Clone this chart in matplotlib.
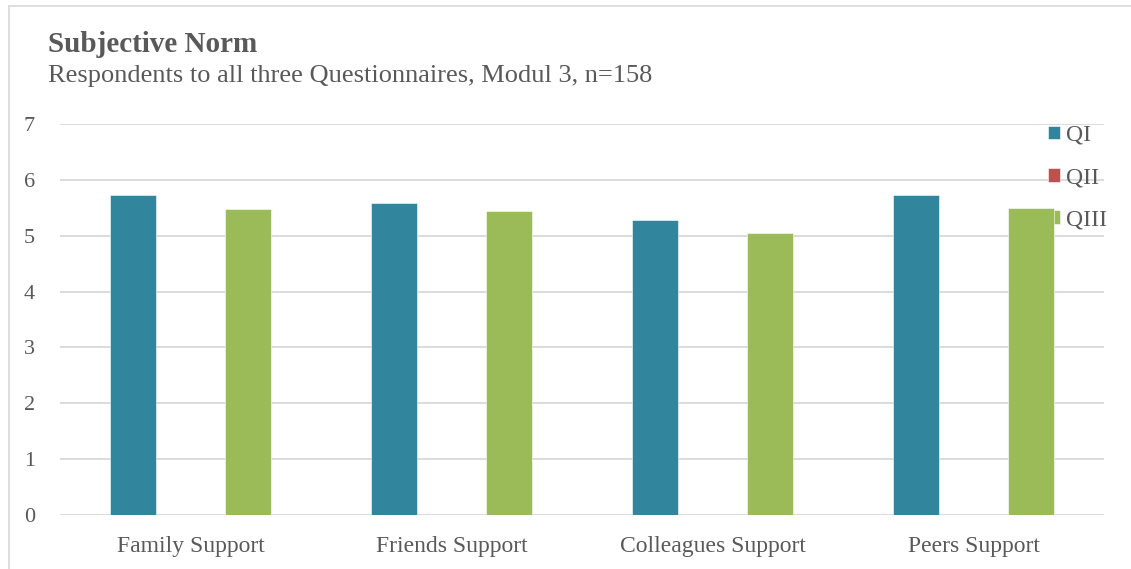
import numpy as np
import matplotlib.pyplot as plt

categories = ['Family Support', 'Friends Support', 'Colleagues Support', 'Peers Support']
series_names = ['QI', 'QII', 'QIII']
qi = [5.73, 5.58, 5.29, 5.73]
qii = [0, 0, 0, 0]
qiii = [5.48, 5.45, 5.04, 5.50]
colors = ['#31859C', '#C0504D', '#9BBB59']
text_color = '#595959'

plt.rcParams['font.family'] = ['Liberation Serif', 'DejaVu Serif']

fig = plt.figure(figsize=(11.31, 5.69), dpi=100)
ax = fig.add_axes([60 / 1131, 1 - 515 / 569, 1044 / 1131, 391 / 569])

x = np.arange(len(categories))
width = 0.176
offset = 0.222
for i, (vals, name) in enumerate(zip([qi, qii, qiii], series_names)):
    ax.bar(x + (i - 1) * offset, vals, width, color=colors[i], label=name,
           edgecolor='white', linewidth=0.4, zorder=3)

ax.set_xlim(-0.5, len(categories) - 0.5)
ax.set_ylim(0, 7)
ax.set_yticks(range(0, 8))
ax.set_xticks(x)
ax.set_xticklabels(categories, fontsize=17, color=text_color)
ax.tick_params(axis='y', labelsize=16, colors=text_color, length=0, pad=18)
ax.tick_params(axis='x', length=0, pad=15)
ax.grid(axis='y', color='#D9D9D9', linewidth=1.3, zorder=0)
for s in ax.spines.values():
    s.set_visible(False)

leg = ax.legend(loc='upper right', bbox_to_anchor=(1.023, 1.052), frameon=False,
                fontsize=17, labelspacing=0.9, handlelength=0.5, handleheight=0.5,
                handletextpad=0.25)
leg.set_zorder(2)  # bars are drawn over the legend
for t in leg.get_texts():
    t.set_color(text_color)

fig.text(48 / 1131, 1 - 45 / 569, 'Subjective Norm', fontsize=21, fontweight='bold',
         color=text_color, va='center')
fig.text(48 / 1131, 1 - 76 / 569, 'Respondents to all three Questionnaires, Modul 3, n=158',
         fontsize=19, color=text_color, va='center')

# thin frame along the top and left edge
fig.add_artist(plt.Line2D([9 / 1131, 9 / 1131], [0, 1 - 6 / 569], color='#D9D9D9', linewidth=1.2))
fig.add_artist(plt.Line2D([9 / 1131, 1], [1 - 6 / 569, 1 - 6 / 569], color='#D9D9D9', linewidth=1.2))

fig.savefig('out.png', dpi=100)
